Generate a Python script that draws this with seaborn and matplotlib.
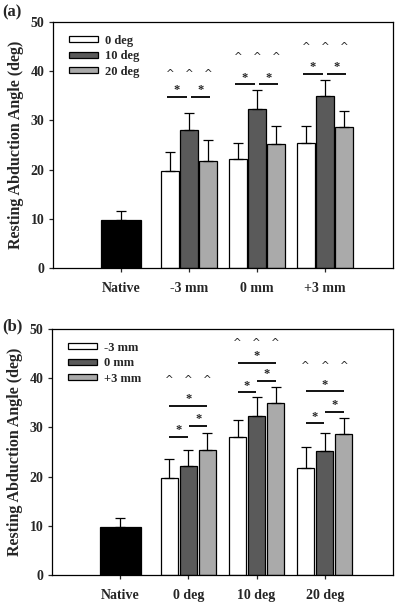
import numpy as np
import pandas as pd
import seaborn as sns
import matplotlib.pyplot as plt

positions = ["-3 mm", "0 mm", "+3 mm"]
angles = ["0 deg", "10 deg", "20 deg"]

native_mean = 9.8
native_err = 1.8

# means / SD for each position, listed by angle (0, 10, 20 deg)
mean_m3 = [19.7, 28.0, 21.8]
mean_0 = [22.2, 32.3, 25.3]
mean_p3 = [25.4, 34.9, 28.7]
err_m3 = [3.8, 3.6, 4.2]
err_0 = [3.3, 3.8, 3.5]
err_p3 = [3.4, 3.4, 3.3]

# significance levels (deg) per group
a_line_y = [34.8, 37.3, 39.4]
a_caret_y = [40.0, 43.3, 45.5]
b_short1_y = [28.1, 37.1, 30.8]
b_short2_y = [30.3, 39.4, 33.1]
b_long_y = [34.3, 43.1, 37.3]
b_caret_y = [40.1, 47.6, 43.0]

means = np.array([mean_m3, mean_0, mean_p3])  # rows position, cols angle
errs = np.array([err_m3, err_0, err_p3])

rows = []
for i, p in enumerate(positions):
    for j, a in enumerate(angles):
        rows.append({"position": p, "angle": a, "value": means[i, j], "err": errs[i, j]})
df = pd.DataFrame(rows)

sns.set_style("ticks")
plt.rcParams["font.family"] = ["Liberation Serif", "DejaVu Serif"]
plt.rcParams["font.weight"] = "bold"

fill = ["white", "#5a5a5a", "#aaaaaa"]

fig = plt.figure(figsize=(3.95, 6.04), dpi=100)
ax1 = fig.add_axes([53 / 395, 1 - 268 / 604, 340 / 395, 246 / 604])
ax2 = fig.add_axes([52 / 395, 1 - 575 / 604, 341 / 395, 246 / 604])


def draw_panel(ax, xcol, hcol, xlevels, hlevels):
    order = ["Native"] + xlevels
    sns.barplot(x=["Native"], y=[native_mean], order=order, color="black",
                width=0.6, saturation=1, edgecolor="black", linewidth=0.9,
                errorbar=None, ax=ax)
    sns.barplot(data=df, x=xcol, y="value", hue=hcol, order=order,
                hue_order=hlevels, palette=dict(zip(hlevels, fill)),
                width=0.84, gap=0.1, saturation=1, edgecolor="black",
                linewidth=0.9, errorbar=None, ax=ax)
    ax.errorbar([0], [native_mean], yerr=[[0], [native_err]], fmt="none",
                ecolor="black", elinewidth=0.9, capsize=3.5, capthick=0.9)
    centers = {}
    for j, cont in enumerate(ax.containers[1:4]):
        bars = sorted([b for b in cont if b.get_height() > 0], key=lambda b: b.get_x())
        for b, xl in zip(bars, xlevels):
            cx = b.get_x() + b.get_width() / 2
            sub = df[(df[xcol] == xl) & (df[hcol] == hlevels[j])].iloc[0]
            centers[(xl, j)] = cx
            ax.errorbar([cx], [sub["value"]], yerr=[[0], [sub["err"]]], fmt="none",
                        ecolor="black", elinewidth=0.9, capsize=3.5, capthick=0.9)
    ax.set_xlim(-1, 4)
    ax.set_ylim(0, 50)
    ax.set_yticks(range(0, 51, 10))
    ax.set_xlabel("")
    ax.set_ylabel("Resting Abduction Angle (deg)", fontsize=11.5, fontweight="bold", labelpad=5)
    ax.tick_params(axis="both", direction="out", length=3, width=0.9, labelsize=10)
    ax.tick_params(axis="x", pad=7)
    ax.tick_params(axis="y", pad=3)
    for lab in ax.get_xticklabels() + ax.get_yticklabels():
        lab.set_fontweight("bold")
    for s in ax.spines.values():
        s.set_visible(True)
        s.set_linewidth(0.9)
        s.set_color("black")
    handles, labels = ax.get_legend_handles_labels()
    ax.legend(handles[-3:], labels[-3:], loc="upper left", bbox_to_anchor=(0.02, 0.984),
              frameon=False, handlelength=2.37, handleheight=0.4,
              labelspacing=0.28, handletextpad=0.56, borderaxespad=0.3,
              prop={"weight": "bold", "size": 9})
    return centers


def star_line(ax, x0, x1, y):
    ax.plot([x0, x1], [y, y], color="black", lw=1.3, solid_capstyle="butt")
    ax.text((x0 + x1) / 2, y + 0.8, "*", ha="center", va="baseline",
            fontsize=9, fontweight="bold")


def carets(ax, xs, y):
    for x in xs:
        ax.text(x, y - 1.1, "^", ha="center", va="baseline", fontsize=7.5,
                fontweight="normal", family="DejaVu Sans")


# panel (a): groups = position, hue = angle
ca = draw_panel(ax1, "position", "angle", positions, angles)
for g, p in enumerate(positions):
    c = [ca[(p, j)] for j in range(3)]
    hw = 0.145
    m1 = (c[0] + c[1]) / 2 - 0.04
    m2 = (c[1] + c[2]) / 2 + 0.03
    star_line(ax1, m1 - hw, m1 + hw, a_line_y[g])
    star_line(ax1, m2 - hw, m2 + hw, a_line_y[g])
    carets(ax1, c, a_caret_y[g])

# panel (b): groups = angle, hue = position
cb = draw_panel(ax2, "angle", "position", angles, positions)
for g, a in enumerate(angles):
    c = [cb[(a, j)] for j in range(3)]
    star_line(ax2, c[0], c[1] - 0.01, b_short1_y[g])
    star_line(ax2, c[1] + 0.01, c[2], b_short2_y[g])
    star_line(ax2, c[0], c[2], b_long_y[g])
    carets(ax2, c, b_caret_y[g])

fig.text(2 / 395, 1 - 12 / 604, "(a)", fontsize=12, fontweight="bold", va="center", ha="left")
fig.text(2 / 395, 1 - 326 / 604, "(b)", fontsize=12, fontweight="bold", va="center", ha="left")

fig.savefig("out.png", dpi=100)
